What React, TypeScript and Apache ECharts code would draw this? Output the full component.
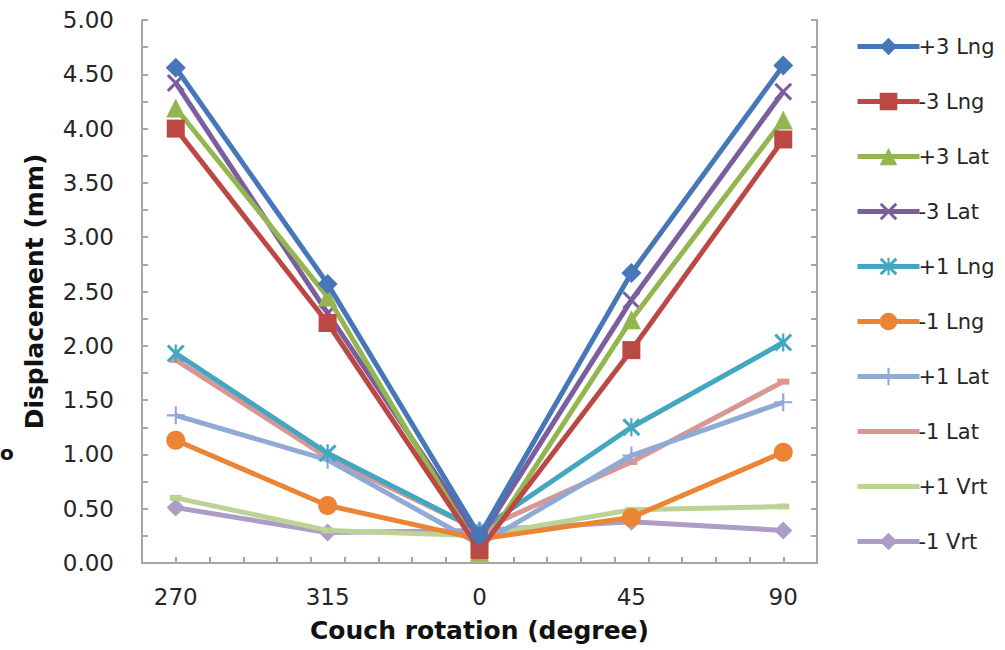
import React, { useEffect, useRef } from "react";
import * as echarts from "echarts";

const rotations = [-90, -45, 0, 45, 90];
const rotationLabels: Record<string, string> = { "-90": "270", "-45": "315", "0": "0", "45": "45", "90": "90" };
const seriesNames = ["+3 Lng", "-3 Lng", "+3 Lat", "-3 Lat", "+1 Lng", "-1 Lng", "+1 Lat", "-1 Lat", "+1 Vrt", "-1 Vrt"];
const plus3Lng = [4.56, 2.57, 0.25, 2.67, 4.58];
const minus3Lng = [4.0, 2.21, 0.12, 1.96, 3.9];
const plus3Lat = [4.19, 2.45, 0.1, 2.24, 4.08];
const minus3Lat = [4.42, 2.3, 0.22, 2.42, 4.34];
const plus1Lng = [1.93, 1.01, 0.3, 1.25, 2.03];
const minus1Lng = [1.13, 0.53, 0.22, 0.42, 1.02];
const plus1Lat = [1.36, 0.95, 0.17, 0.99, 1.48];
const minus1Lat = [1.87, 0.97, 0.3, 0.93, 1.67];
const plus1Vrt = [0.6, 0.3, 0.25, 0.49, 0.52];
const minus1Vrt = [0.51, 0.28, 0.3, 0.38, 0.3];
const yTicks = [0, 0.25, 0.5, 0.75, 1, 1.25, 1.5, 1.75, 2, 2.25, 2.5, 2.75, 3, 3.25, 3.5, 3.75, 4, 4.25, 4.5, 4.75, 5];
const xTicks = [-100, -90, -80, -70, -60, -50, -40, -30, -20, -10, 0, 10, 20, 30, 40, 50, 60, 70, 80, 90, 100];

const X_PATH = "path://M0,1.2L1.2,0L10,8.8L8.8,10ZM8.8,0L10,1.2L1.2,10L0,8.8Z";
const STAR_PATH = "path://M0,1.2L1.2,0L10,8.8L8.8,10ZM8.8,0L10,1.2L1.2,10L0,8.8ZM4.4,0H5.6V10H4.4Z";
const PLUS_PATH = "path://M4.4,0H5.6V4.4H10V5.6H5.6V10H4.4V5.6H0V4.4H4.4Z";
const BAR_PATH = "path://M0,0H60V5H0Z";

const seriesValues = [plus3Lng, minus3Lng, plus3Lat, minus3Lat, plus1Lng, minus1Lng, plus1Lat, minus1Lat, plus1Vrt, minus1Vrt];
const colors = ["#4677B8", "#BC4845", "#94B651", "#7A5E9E", "#43A7C2", "#EC8435", "#8FAAD5", "#D99694", "#BCD395", "#AC9CC7"];
const symbols: any[] = ["diamond", "rect", "triangle", X_PATH, STAR_PATH, "circle", PLUS_PATH, "rect", "rect", "diamond"];
const symbolSizes: any[] = [20, 18, 19, 18, 18, 19, 18, [12, 6], [12, 6], 18];

export default function App() {
  const ref = useRef<HTMLDivElement>(null);
  useEffect(() => {
    if (!ref.current) return;
    const chart = echarts.init(ref.current, null, { renderer: "svg" });
    const font = "DejaVu Sans";
    const axisColor = "#A6A6A6";
    chart.setOption({
      animation: false,
      backgroundColor: "#ffffff",
      grid: { left: 142, right: 188, top: 20, bottom: 87 },
      legend: {
        orient: "vertical",
        left: 850,
        top: 31,
        itemWidth: 62,
        itemHeight: 22,
        itemGap: 34,
        symbolKeepAspect: true,
        lineStyle: { width: 5 },
        data: seriesNames.map((n, i) =>
          i === 7 || i === 8 ? { name: n, icon: BAR_PATH } : { name: n }
        ),
        textStyle: { fontFamily: font, fontSize: 21, color: "#262626", padding: [0, 0, 0, -6] },
      },
      graphic: [
        {
          type: "text",
          left: 0,
          top: 443,
          style: { text: "o", fontFamily: font, fontSize: 20, fontWeight: "bold", fill: "#111" },
        },
      ],
      xAxis: {
        type: "value",
        min: -100,
        max: 100,
        interval: 10,
        name: "Couch rotation (degree)",
        nameLocation: "middle",
        nameGap: 55,
        nameTextStyle: { fontFamily: font, fontSize: 25, fontWeight: "bold", color: "#111" },
        axisLine: { show: true, onZero: false, lineStyle: { color: axisColor, width: 2 } },
        axisTick: { show: true, inside: true, length: 6, customValues: xTicks, lineStyle: { color: axisColor, width: 2 } },
        axisLabel: {
          customValues: rotations,
          margin: 22,
          fontFamily: font,
          fontSize: 23,
          color: "#262626",
          formatter: (v: number) => rotationLabels[String(v)] ?? "",
        },
        splitLine: { show: false },
      },
      yAxis: [
        {
          type: "value",
          min: 0,
          max: 5,
          interval: 0.5,
          name: "Displacement (mm)",
          nameLocation: "middle",
          nameGap: 95,
          nameTextStyle: { fontFamily: font, fontSize: 25, fontWeight: "bold", color: "#111" },
          axisLine: { show: true, onZero: false, lineStyle: { color: axisColor, width: 2 } },
          axisTick: { show: true, inside: true, length: 6, customValues: yTicks, lineStyle: { color: axisColor, width: 2 } },
          axisLabel: {
            margin: 28,
            fontFamily: font,
            fontSize: 23,
            color: "#262626",
            formatter: (v: number) => v.toFixed(2),
          },
          splitLine: { show: false },
        },
        {
          type: "value",
          position: "right",
          min: 0,
          max: 5,
          interval: 0.5,
          axisLine: { show: true, onZero: false, lineStyle: { color: axisColor, width: 2 } },
          axisTick: { show: true, inside: true, length: 6, customValues: yTicks, lineStyle: { color: axisColor, width: 2 } },
          axisLabel: { show: false },
          splitLine: { show: false },
        },
      ],
      series: seriesNames.map((name, i) => ({
        name,
        type: "line",
        yAxisIndex: 0,
        data: rotations.map((r, j) => [r, seriesValues[i][j]]),
        symbol: symbols[i],
        symbolSize: symbolSizes[i],
        showAllSymbol: true,
        color: colors[i],
        lineStyle: { width: 5, color: colors[i] },
        itemStyle: { color: colors[i], borderWidth: 0 },
        emphasis: { disabled: true },
        z: 20 - i,
      })),
    });
    return () => chart.dispose();
  }, []);
  return <div ref={ref} style={{ position: "absolute", left: 0, top: 0, width: 1005, height: 650 }} />;
}
